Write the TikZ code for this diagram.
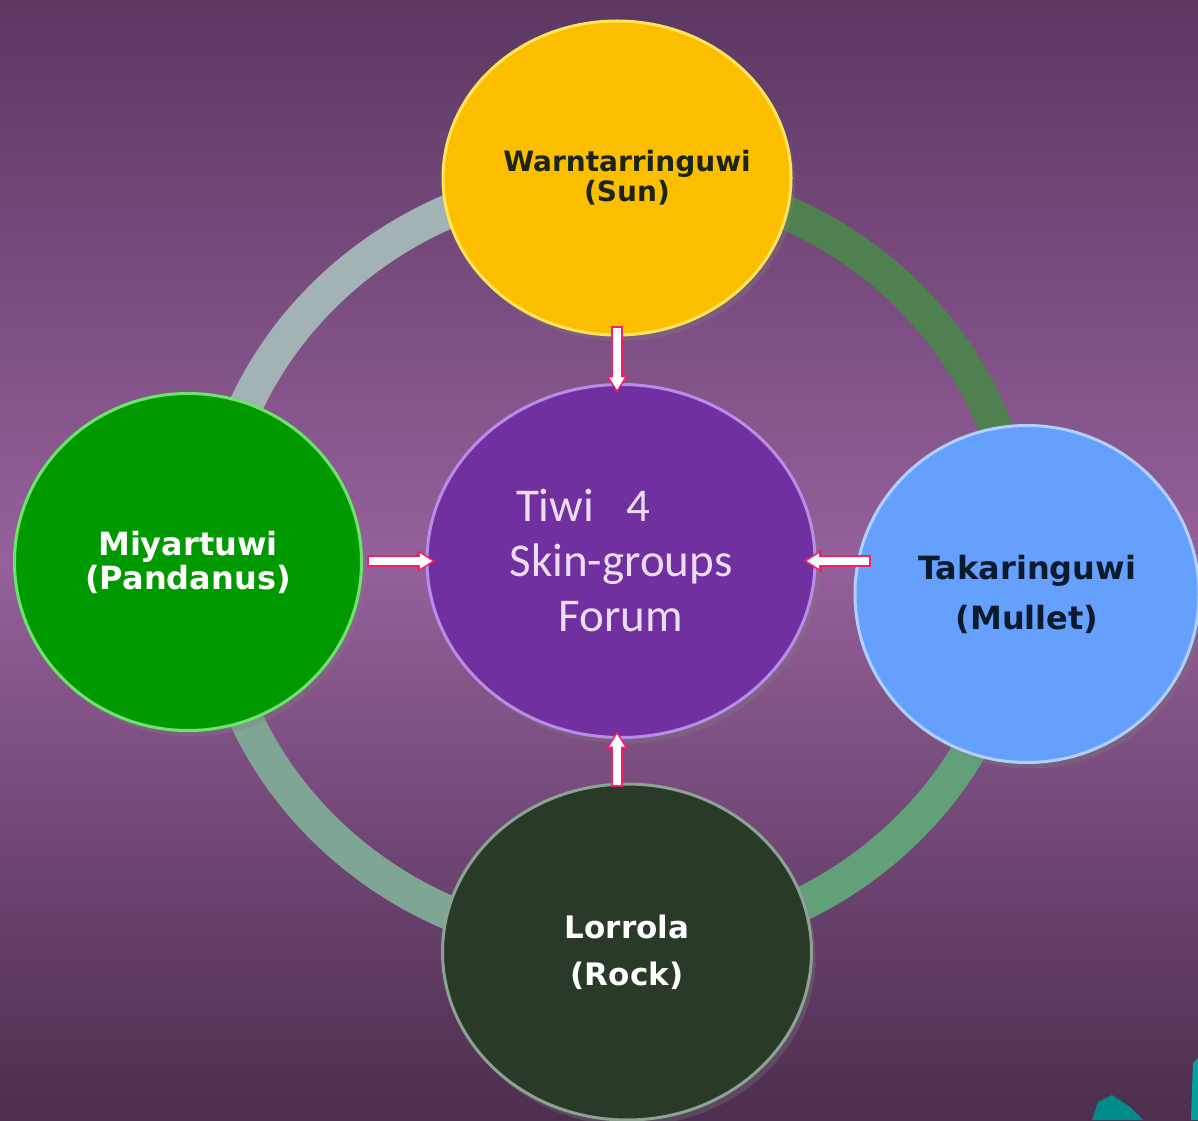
\documentclass[tikz,border=0pt]{standalone}
\usepackage{fontspec}
\newfontfamily\bubblefont{DejaVu Sans}
\newfontfamily\forumfont{Carlito}
\usetikzlibrary{shapes.geometric,arrows.meta,calc,shadows}

\definecolor{bgtop}{HTML}{5C3861}
\definecolor{bgmid}{HTML}{95609B}
\definecolor{bgbot}{HTML}{4C2E4E}
\definecolor{ringgray}{HTML}{A3B3B5}
\definecolor{ringgreen}{HTML}{4F8050}
\definecolor{ringsage}{HTML}{7FA595}
\definecolor{ringmint}{HTML}{62A07A}
\definecolor{sunfill}{HTML}{FCBF00}
\definecolor{sunrim}{HTML}{FFE45C}
\definecolor{suntext}{HTML}{1C2418}
\definecolor{forumfill}{HTML}{7030A0}
\definecolor{forumrim}{HTML}{B88CE8}
\definecolor{forumtext}{HTML}{ECDDF4}
\definecolor{miyfill}{HTML}{009A00}
\definecolor{miyrim}{HTML}{6FE36F}
\definecolor{takafill}{HTML}{66A0FF}
\definecolor{takarim}{HTML}{B0D0FF}
\definecolor{takatext}{HTML}{0C1A2E}
\definecolor{lorfill}{HTML}{2A3A28}
\definecolor{lorrim}{HTML}{8CA394}
\definecolor{arrowpink}{HTML}{F0206A}
\definecolor{tealdark}{HTML}{008C8A}
\definecolor{teallight}{HTML}{00A3A0}

\begin{document}
\begin{tikzpicture}[x=0.5pt, y=0.5pt,
  bubble/.style={ellipse, inner sep=0pt, line width=1.5pt, align=center,
    drop shadow={opacity=0.3, shadow xshift=2pt, shadow yshift=-3pt}},
  blockarrow/.style={draw=arrowpink, line width=6pt, -{Triangle[length=9pt,width=10.5pt]},
    postaction={draw=white, line width=4pt, -{Triangle[length=6.2pt,width=7.2pt]},
      shorten <=1pt, shorten >=1.6pt}}]
\useasboundingbox (0,0) rectangle (1198,1120);

% background
\shade[top color=bgtop, bottom color=bgbot, middle color=bgmid] (0,0) rectangle (1198,1120);

% ring behind the bubbles
\def\ringx{616}
\def\ringy{558}
\draw[line width=17pt, ringgray]  (\ringx,\ringy+385) arc[start angle=90, end angle=180, x radius=405, y radius=385];
\draw[line width=17pt, ringsage]  (\ringx-405,\ringy) arc[start angle=180, end angle=270, x radius=405, y radius=385];
\draw[line width=17pt, ringmint]  (\ringx,\ringy-385) arc[start angle=270, end angle=360, x radius=405, y radius=385];
\draw[line width=17pt, ringgreen] (\ringx+405,\ringy) arc[start angle=0, end angle=90, x radius=405, y radius=385];

% skin-group bubbles
\node[bubble, fill=sunfill, draw=sunrim, minimum width=174pt, minimum height=157pt,
  text=suntext, font=\bubblefont\bfseries\fontsize{14}{15}\selectfont] (sun) at (617,942)
  {\raisebox{2.5pt}{\makebox[0pt]{\hspace*{10pt}Warntarringuwi}}\\\raisebox{2.5pt}{\makebox[0pt]{\hspace*{10pt}(Sun)}}};
\node[bubble, fill=miyfill, draw=miyrim, minimum width=173.5pt, minimum height=168.5pt,
  text=white, font=\bubblefont\bfseries\fontsize{16}{17}\selectfont] (miy) at (188,558) {Miyartuwi\\(Pandanus)};
\node[bubble, fill=takafill, draw=takarim, minimum width=172pt, minimum height=168.5pt,
  text=takatext, font=\bubblefont\bfseries\fontsize{16}{25}\selectfont] (taka) at (1027,526) {Takaringuwi\\(Mullet)};
\node[bubble, fill=lorfill, draw=lorrim, minimum width=184.5pt, minimum height=168pt,
  text=white, font=\bubblefont\bfseries\fontsize{15.5}{23.5}\selectfont] (lor) at (627,168) {Lorrola\\(Rock)};
\node[bubble, fill=forumfill, draw=forumrim, minimum width=194pt, minimum height=176.5pt,
  text=forumtext, font=\forumfont\fontsize{23.5}{27.5}\selectfont] (forum) at (621,559)
  {Tiwi\hspace{16pt}4\hspace*{38pt}\\Skin-groups\\Forum};

% block arrows into the forum
\draw[blockarrow] ($(sun.south)+(0,10)$) -- ($(sun.south |- forum.north)+(0,-10)$);
\draw[blockarrow] ($(miy.east |- forum.west)+(4,0)$) -- ($(forum.west)+(10,0)$);
\draw[blockarrow] ($(taka.west |- forum.east)+(17,0)$) -- ($(forum.east)+(-13,0)$);
\draw[blockarrow] ($(sun.south |- lor.north)+(0,-4)$) -- ($(sun.south |- forum.south)+(0,8)$);

% corner of the logo
\fill[tealdark] (1092,0) -- (1098,18) -- (1112,25) -- (1130,13) -- (1143,0) -- cycle;
\fill[teallight] (1191,0) -- (1193,57) -- (1198,62) -- (1198,0) -- cycle;
\end{tikzpicture}
\end{document}
